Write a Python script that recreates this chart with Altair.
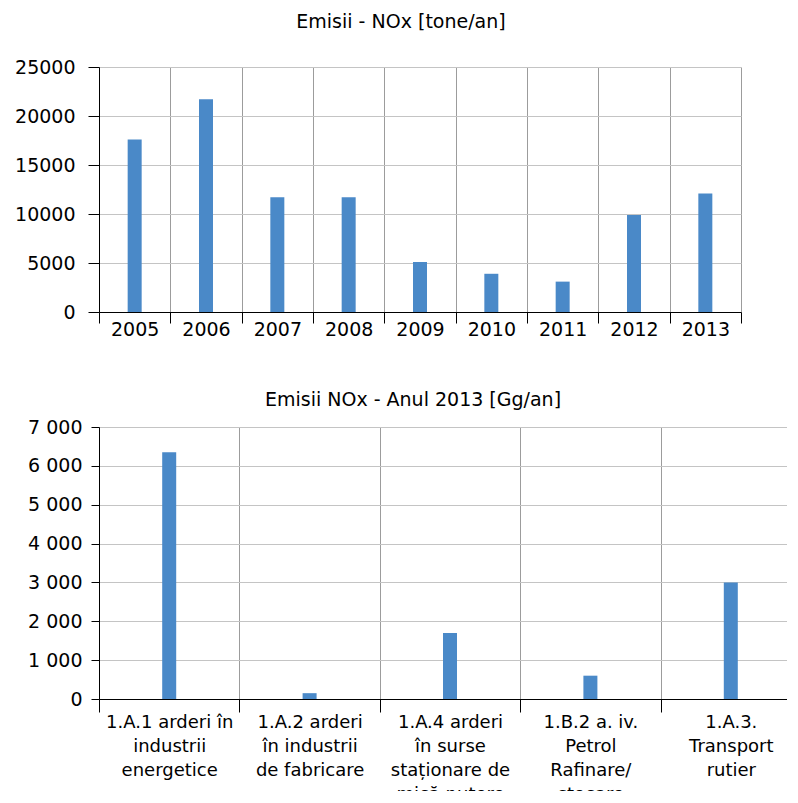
import altair as alt
import pandas as pd

years = ["2005", "2006", "2007", "2008", "2009", "2010", "2011", "2012", "2013"]
nox_tone = [17600, 21700, 11700, 11700, 5100, 3900, 3100, 9900, 12100]

sectors = [
    "1.A.1 arderi în\nindustrii\nenergetice",
    "1.A.2 arderi\nîn industrii\nde fabricare",
    "1.A.4 arderi\nîn surse\nstaționare de\nmică putere",
    "1.B.2 a. iv.\nPetrol\nRafinare/\nstocare",
    "1.A.3.\nTransport\nrutier",
]
nox_2013 = [6350, 150, 1700, 600, 3000]

top_ticks = [0, 5000, 10000, 15000, 20000, 25000]
bottom_ticks = [0, 1000, 2000, 3000, 4000, 5000, 6000, 7000]

BLUE = "#4a89c8"
GRID_V = "#9c9c9c"
GRID_H = "#c4c4c4"
FONT = "DejaVu Sans"

df1 = pd.DataFrame({"year": years, "nox": nox_tone})
df2 = pd.DataFrame({"sector": sectors, "nox": nox_2013})

top = alt.Chart(df1).mark_bar(size=14, color=BLUE).encode(
    x=alt.X("year:N", sort=None, title=None,
            scale=alt.Scale(paddingInner=0, paddingOuter=0),
            axis=alt.Axis(tickBand="extent", labelAngle=0, domainColor="black",
                          tickColor="black", tickSize=11, grid=True, gridColor=GRID_V,
                          labelPadding=-3, labelFontSize=19, labelColor="black",
                          labelFont=FONT)),
    y=alt.Y("nox:Q", title=None, scale=alt.Scale(domain=[0, 25000]),
            axis=alt.Axis(values=top_ticks, format="d", tickSize=11, tickColor="black",
                          domainColor="black", gridColor=GRID_H, labelPadding=13,
                          labelFontSize=19, labelColor="black", labelFont=FONT,
                          minExtent=91)),
).properties(
    width=642, height=245,
    title=alt.TitleParams("Emisii - NOx [tone/an]", fontSize=19, font=FONT,
                          fontWeight="normal", color="black", anchor="middle",
                          frame="group", dx=-19, offset=26),
)

bottom = alt.Chart(df2).mark_bar(size=14, color=BLUE).encode(
    x=alt.X("sector:N", sort=None, title=None,
            scale=alt.Scale(paddingInner=0, paddingOuter=0),
            axis=alt.Axis(tickBand="extent", labelAngle=0, domainColor="black",
                          tickColor="black", tickSize=13, grid=True, gridColor=GRID_V,
                          labelPadding=1, labelFontSize=18, labelColor="black",
                          labelFont=FONT, labelLineHeight=24,
                          labelExpr="split(datum.label, '\\n')")),
    y=alt.Y("nox:Q", title=None, scale=alt.Scale(domain=[0, 7000]),
            axis=alt.Axis(values=bottom_ticks, tickSize=8, tickColor="black",
                          domainColor="black", gridColor=GRID_H, labelPadding=9,
                          labelFontSize=19, labelColor="black", labelFont=FONT,
                          labelExpr="replace(format(datum.value, ','), ',', ' ')",
                          minExtent=85)),
).properties(
    width=702, height=272,
    title=alt.TitleParams("Emisii NOx - Anul 2013 [Gg/an]", fontSize=19, font=FONT,
                          fontWeight="normal", color="black", anchor="middle",
                          frame="group", dx=-37, offset=8),
)

chart = alt.vconcat(top, bottom, spacing=52).properties(
    padding={"left": 0, "top": 5, "right": -15, "bottom": -12}
).configure_view(stroke=None).configure_axis(labelLimit=400)

chart.save("out.html", embed_options={"renderer": "svg", "actions": False})
